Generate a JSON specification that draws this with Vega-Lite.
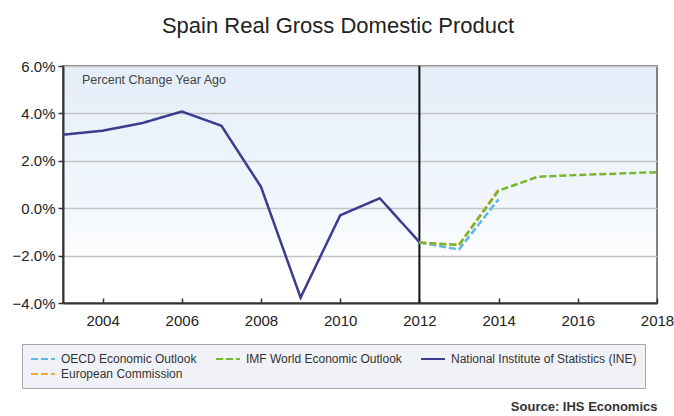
{
  "$schema": "https://vega.github.io/schema/vega-lite/v6.json",
  "autosize": {"type": "none"},
  "padding": {"left": 63, "top": 66, "right": 17, "bottom": 113},
  "width": 594,
  "height": 237,
  "background": "#ffffff",
  "title": {
    "text": "Spain Real Gross Domestic Product",
    "fontSize": 22,
    "fontWeight": "normal",
    "font": "Liberation Sans",
    "color": "#222222",
    "anchor": "middle",
    "dx": -22,
    "offset": 21
  },
  "config": {
    "font": "Liberation Sans",
    "view": {
      "stroke": "#808080",
      "strokeWidth": 2,
      "fill": {
        "gradient": "linear",
        "x1": 0, "y1": 0, "x2": 0, "y2": 1,
        "stops": [
          {"offset": 0, "color": "#e4eef9"},
          {"offset": 0.6, "color": "#f2f7fc"},
          {"offset": 0.85, "color": "#ffffff"},
          {"offset": 1, "color": "#ffffff"}
        ]
      }
    }
  },
  "data": {
    "values": [
      {"year": 2003, "value": 3.1, "series": "National Institute of Statistics (INE)"},
      {"year": 2004, "value": 3.27, "series": "National Institute of Statistics (INE)"},
      {"year": 2005, "value": 3.59, "series": "National Institute of Statistics (INE)"},
      {"year": 2006, "value": 4.08, "series": "National Institute of Statistics (INE)"},
      {"year": 2007, "value": 3.48, "series": "National Institute of Statistics (INE)"},
      {"year": 2008, "value": 0.9, "series": "National Institute of Statistics (INE)"},
      {"year": 2009, "value": -3.77, "series": "National Institute of Statistics (INE)"},
      {"year": 2010, "value": -0.3, "series": "National Institute of Statistics (INE)"},
      {"year": 2011, "value": 0.42, "series": "National Institute of Statistics (INE)"},
      {"year": 2012, "value": -1.43, "series": "National Institute of Statistics (INE)"},
      {"year": 2012, "value": -1.45, "series": "OECD Economic Outlook"},
      {"year": 2013, "value": -1.74, "series": "OECD Economic Outlook"},
      {"year": 2014, "value": 0.38, "series": "OECD Economic Outlook"},
      {"year": 2012, "value": -1.45, "series": "European Commission"},
      {"year": 2013, "value": -1.55, "series": "European Commission"},
      {"year": 2014, "value": 0.8, "series": "European Commission"},
      {"year": 2012, "value": -1.45, "series": "IMF World Economic Outlook"},
      {"year": 2013, "value": -1.55, "series": "IMF World Economic Outlook"},
      {"year": 2014, "value": 0.74, "series": "IMF World Economic Outlook"},
      {"year": 2015, "value": 1.33, "series": "IMF World Economic Outlook"},
      {"year": 2016, "value": 1.4, "series": "IMF World Economic Outlook"},
      {"year": 2017, "value": 1.46, "series": "IMF World Economic Outlook"},
      {"year": 2018, "value": 1.52, "series": "IMF World Economic Outlook"}
    ]
  },
  "layer": [
    {
      "data": {"values": [{"year": 2012}]},
      "mark": {"type": "rule", "color": "#111111", "strokeWidth": 2},
      "encoding": {"x": {"field": "year", "type": "quantitative"}}
    },
    {
      "data": {"values": [{"label": "Percent Change Year Ago", "year": 2003.48, "value": 5.41}]},
      "mark": {"type": "text", "align": "left", "baseline": "middle", "fontSize": 12.5, "color": "#444444"},
      "encoding": {
        "x": {"field": "year", "type": "quantitative"},
        "y": {"field": "value", "type": "quantitative"},
        "text": {"field": "label"}
      }
    },
    {
      "mark": {"type": "line", "strokeWidth": 2.5},
      "encoding": {
        "x": {
          "field": "year",
          "type": "quantitative",
          "scale": {"domain": [2003, 2018], "nice": false, "zero": false},
          "axis": {
            "values": [2004, 2006, 2008, 2010, 2012, 2014, 2016, 2018],
            "format": "d",
            "grid": false,
            "domainColor": "#333333",
            "domainWidth": 2,
            "tickColor": "#333333",
            "tickWidth": 1.5,
            "tickSize": -5,
            "labelPadding": 15,
            "labelFontSize": 15,
            "labelColor": "#222222",
            "labelFlush": false,
            "title": "Source: IHS Economics",
            "titleFontSize": 13,
            "titleFontWeight": "bold",
            "titleColor": "#333333",
            "titleX": 594,
            "titleY": 107,
            "titleAlign": "right",
            "titleBaseline": "alphabetic"
          }
        },
        "y": {
          "field": "value",
          "type": "quantitative",
          "scale": {"domain": [-4, 6], "nice": false},
          "axis": {
            "values": [-4, -2, 0, 2, 4, 6],
            "labelExpr": "format(datum.value, '.1f') + '%'",
            "gridColor": "#c4c4c4",
            "gridWidth": 1.5,
            "domainColor": "#333333",
            "domainWidth": 2,
            "tickColor": "#333333",
            "tickWidth": 1.5,
            "tickSize": 5,
            "labelPadding": 3,
            "labelFontSize": 15,
            "labelColor": "#222222",
            "title": null
          }
        },
        "color": {
          "field": "series",
          "type": "nominal",
          "scale": {
            "domain": ["OECD Economic Outlook", "IMF World Economic Outlook", "National Institute of Statistics (INE)", "European Commission"],
            "range": ["#5ab8e8", "#7ab52f", "#3b3b8f", "#f0a83a"]
          },
          "legend": {
            "title": null,
            "orient": "none",
            "legendX": -41,
            "legendY": 278,
            "direction": "horizontal",
            "columns": 3,
            "columnPadding": 15,
            "rowPadding": 2,
            "padding": 8,
            "fillColor": "#f1f2f7",
            "strokeColor": "#a8a8a8",
            "symbolType": "M-2,0H2",
            "symbolSize": 144,
            "symbolOffset": 6,
            "symbolStrokeWidth": 2,
            "labelFontSize": 12,
            "labelColor": "#333333",
            "labelOffset": 11,
            "labelLimit": 300
          }
        },
        "strokeDash": {
          "field": "series",
          "type": "nominal",
          "scale": {
            "domain": ["OECD Economic Outlook", "IMF World Economic Outlook", "National Institute of Statistics (INE)", "European Commission"],
            "range": [[7, 3], [7, 3], [1, 0], [7, 3]]
          },
          "legend": null
        },
        "order": {"field": "year"}
      }
    }
  ]
}
